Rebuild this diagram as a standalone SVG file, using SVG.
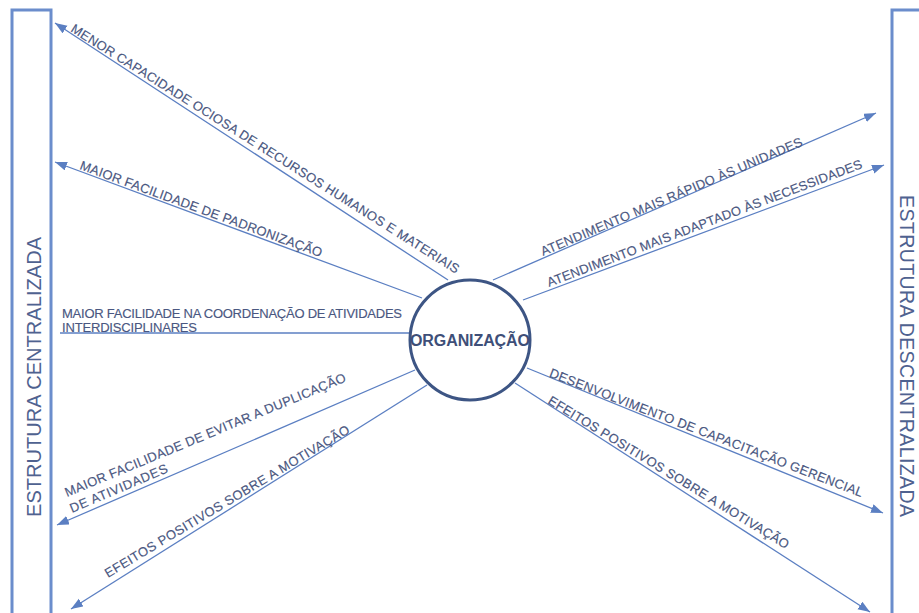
<svg xmlns="http://www.w3.org/2000/svg" width="919" height="613" viewBox="0 0 919 613">
<defs>
<style>
.t{font-family:"Liberation Sans",Arial,sans-serif;font-size:13px;fill:#4a5781;stroke:#4a5781;stroke-width:0.15}
.v{font-family:"Liberation Sans",Arial,sans-serif;font-size:20px;fill:#4f6290}
.c{stroke:#5b7fc2;stroke-width:1.3;fill:none}
.bar{fill:none;stroke:#6b8dcc;stroke-width:3}
</style>
<marker id="ah" markerUnits="userSpaceOnUse" markerWidth="13" markerHeight="10" refX="12" refY="4.5" orient="auto">
<path d="M0,0 L12,4.5 L0,9 z" fill="#5b7fc2"/>
</marker>
</defs>
<rect width="919" height="613" fill="#ffffff"/>
<g id="estrutura-centralizada">
<rect class="bar" x="12" y="10" width="39" height="620"/>
<text class="v" transform="translate(41,377) rotate(-90)" text-anchor="middle" textLength="280">ESTRUTURA CENTRALIZADA</text>
</g>
<g id="estrutura-descentralizada">
<rect class="bar" x="892" y="10" width="40" height="620"/>
<text class="v" transform="translate(900,356) rotate(90)" text-anchor="middle" textLength="322" style="font-size:19.5px">ESTRUTURA DESCENTRALIZADA</text>
</g>
<g id="connectors">
<line class="c" x1="448" y1="280" x2="55" y2="23" marker-end="url(#ah)"/>
<line class="c" x1="422" y1="298" x2="55" y2="162" marker-end="url(#ah)"/>
<line class="c" x1="409" y1="333" x2="60" y2="333"/>
<line class="c" x1="415" y1="370" x2="57" y2="525" marker-end="url(#ah)"/>
<line class="c" x1="427" y1="385" x2="71" y2="609" marker-end="url(#ah)"/>
<line class="c" x1="493" y1="280" x2="876" y2="113" marker-end="url(#ah)"/>
<line class="c" x1="523" y1="300" x2="884" y2="165" marker-end="url(#ah)"/>
<line class="c" x1="527" y1="368" x2="883" y2="513" marker-end="url(#ah)"/>
<line class="c" x1="515" y1="383" x2="870" y2="612" marker-end="url(#ah)"/>
<text class="t" transform="translate(70,31) rotate(32.2)" textLength="456">MENOR CAPACIDADE OCIOSA DE RECURSOS HUMANOS E MATERIAIS</text>
<text class="t" transform="translate(79,169) rotate(20.1)" textLength="257">MAIOR FACILIDADE DE PADRONIZAÇÃO</text>
<text class="t" x="62" y="318" textLength="340">MAIOR FACILIDADE NA COORDENAÇÃO DE ATIVIDADES</text>
<text class="t" x="62" y="332" textLength="135">INTERDISCIPLINARES</text>
<text class="t" transform="translate(67,497) rotate(-22.5)" textLength="303">MAIOR FACILIDADE DE EVITAR A DUPLICAÇÃO</text>
<text class="t" transform="translate(72,513) rotate(-23)" textLength="105">DE ATIVIDADES</text>
<text class="t" transform="translate(108,578) rotate(-31)" textLength="283">EFEITOS POSITIVOS SOBRE A MOTIVAÇÃO</text>
<text class="t" transform="translate(543,256) rotate(-23)" textLength="283">ATENDIMENTO MAIS RÁPIDO ÀS UNIDADES</text>
<text class="t" transform="translate(549,287) rotate(-20.8)" textLength="336">ATENDIMENTO MAIS ADAPTADO ÀS NECESSIDADES</text>
<text class="t" transform="translate(548.5,376.6) rotate(21.1)" textLength="335">DESENVOLVIMENTO DE CAPACITAÇÃO GERENCIAL</text>
<text class="t" transform="translate(547,403) rotate(31.5)" textLength="280">EFEITOS POSITIVOS SOBRE A MOTIVAÇÃO</text>
</g>
<g id="organizacao">
<circle cx="470" cy="340" r="60" fill="#ffffff" stroke="#3d5584" stroke-width="3"/>
<text x="470" y="346" text-anchor="middle" textLength="120" font-family="'Liberation Sans',Arial,sans-serif" font-size="16" font-weight="bold" fill="#3e4f78">ORGANIZAÇÃO</text>
</g>
</svg>
